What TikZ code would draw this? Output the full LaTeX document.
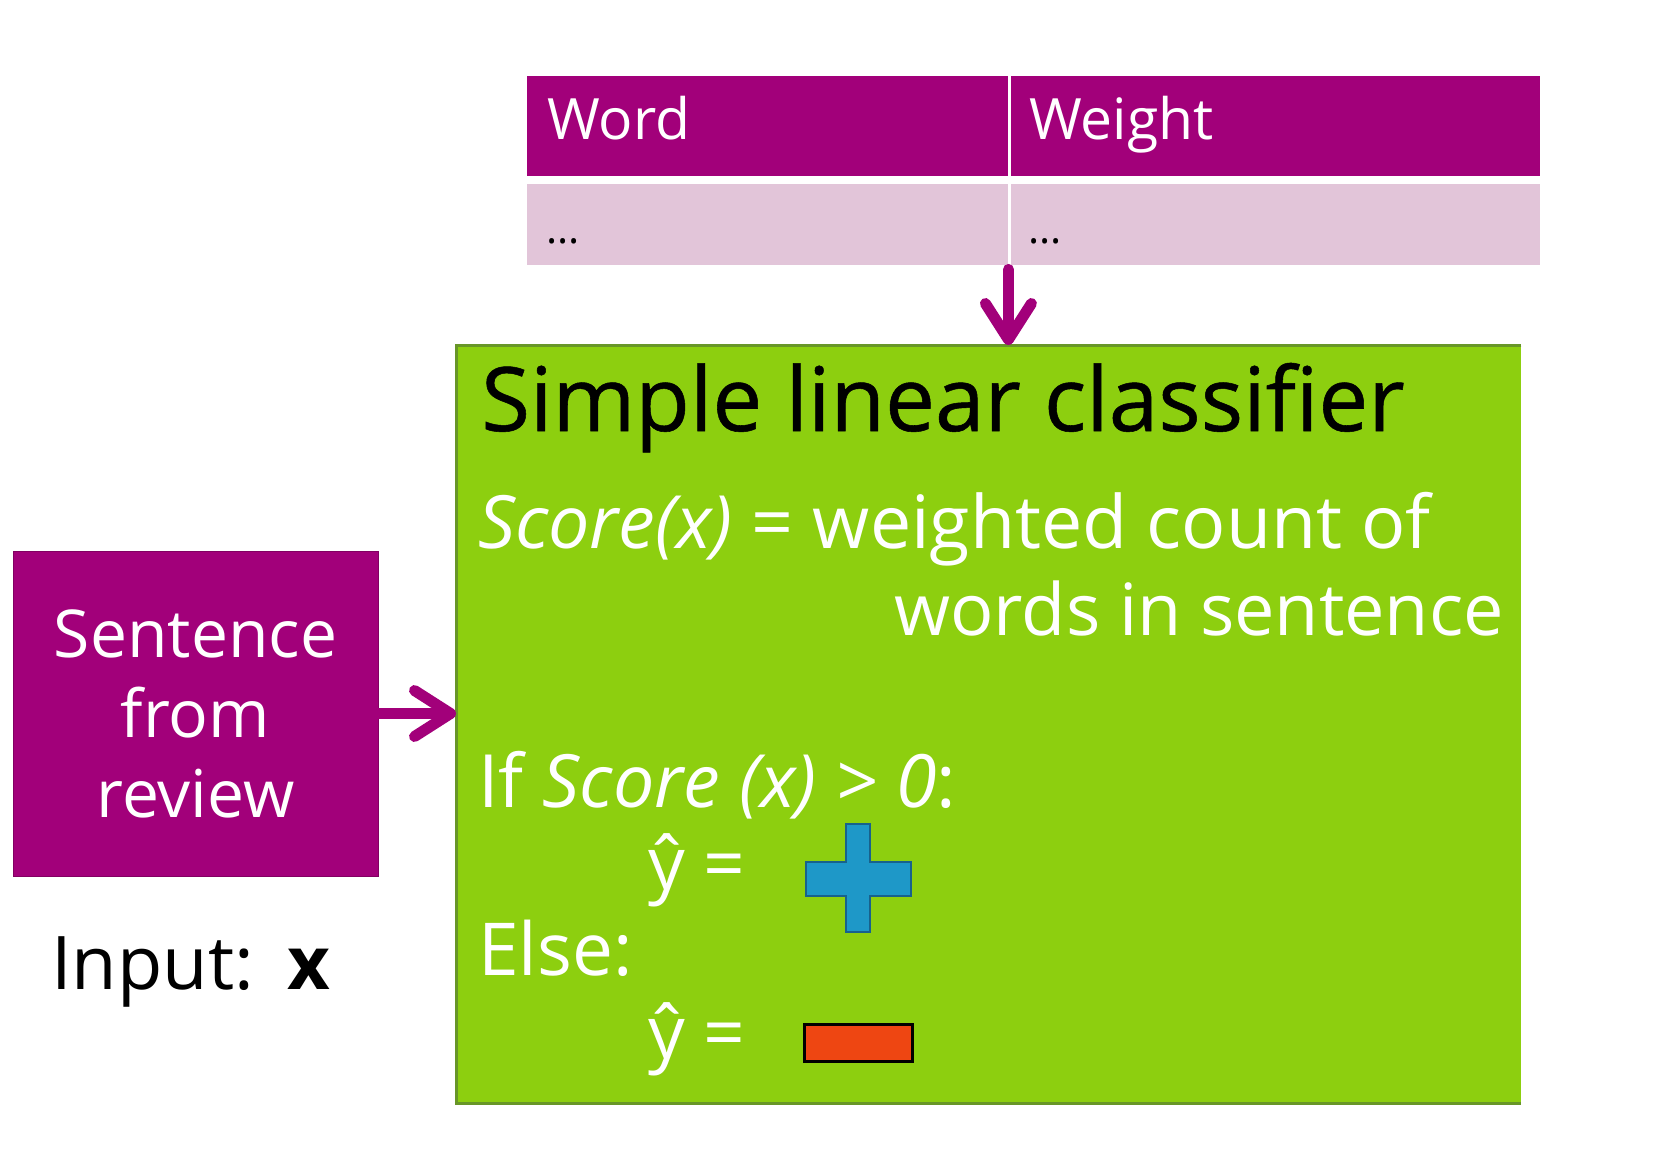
\documentclass[tikz,border=0pt]{standalone}
\usepackage{fontspec}
\setmainfont{Open Sans}
\newfontfamily\headfont{Open Sans}[FakeBold=0.6]
\usetikzlibrary{arrows.meta}

\definecolor{plum}{RGB}{162,0,122}
\definecolor{plumlight}{RGB}{226,197,217}
\definecolor{leaf}{RGB}{141,207,15}
\definecolor{leafdark}{RGB}{104,150,40}
\definecolor{plusblue}{RGB}{30,152,200}
\definecolor{plusedge}{RGB}{24,98,140}
\definecolor{minusred}{RGB}{238,70,18}

\tikzset{
  cell/.style={rectangle, inner sep=0pt, draw=none, anchor=north west},
  txt/.style={inner sep=0pt, anchor=base west},
  flow/.style={draw=plum, line width=11pt, line cap=round,
    -{Straight Barb[length=36pt, width=46pt, line width=11pt, line cap=round, line join=round]}},
}

\begin{document}
\begin{tikzpicture}[x=1pt, y=-1pt]
\useasboundingbox[fill=white] (0,0) rectangle (1659,1152);

% weight table
\node[cell, fill=plum, minimum width=481pt, minimum height=100pt] (hw) at (527,76) {};
\node[cell, fill=plum, minimum width=529pt, minimum height=100pt] (hg) at (1011,76) {};
\node[cell, fill=plumlight, minimum width=481pt, minimum height=81pt] (bw) at (527,184) {};
\node[cell, fill=plumlight, minimum width=529pt, minimum height=81pt] (bg) at (1011,184) {};
\node[txt, text=white, font=\fontsize{57}{60}\selectfont] (tword) at (547,139) {Word};
\node[txt, text=white, font=\fontsize{57}{60}\selectfont] (tweight) at (1029,139) {Weight};
\node[txt, font=\fontsize{42}{44}\selectfont] (dw) at (546,243) {...};
\node[txt, font=\fontsize{42}{44}\selectfont] (dg) at (1028,243) {...};

% classifier panel
\node[cell, fill=leaf, minimum width=1065pt, minimum height=758pt] (clf) at (456,345) {};
\draw[leafdark, line width=3pt] (clf.north east) -- (clf.north west) -- (clf.south west) -- (clf.south east);

\node[txt, font=\headfont\fontsize{89}{92}\selectfont] (title) at (481,431) {Simple linear classifier};
\node[txt, text=white, font=\fontsize{73.5}{76}\selectfont] (score) at (478,548) {\itshape Score(x)\upshape{} = weighted count of};
\node[txt, text=white, font=\fontsize{72}{76}\selectfont, anchor=base east] (words) at (1504,635) {words in sentence};
\node[txt, text=white, font=\fontsize{73.5}{76}\selectfont] (ifline) at (478,807) {If \itshape Score (x) > 0\upshape :};
\node[txt, text=white, font=\fontsize{73}{76}\selectfont] (yhat1) at (648,889) {ŷ =};
\node[txt, text=white, font=\fontsize{73}{76}\selectfont] (elseline) at (478,975) {Else:};
\node[txt, text=white, font=\fontsize{73}{76}\selectfont] (yhat2) at (648,1058) {ŷ =};

% predicted labels
\draw[fill=plusblue, draw=plusedge, line width=2.5pt, line join=miter]
  (846,824) -- (870,824) -- (870,862) -- (911,862) -- (911,896) -- (870,896)
  -- (870,932) -- (846,932) -- (846,896) -- (806,896) -- (806,862) -- (846,862) -- cycle;
\node[cell, fill=minusred, draw=black, line width=2.5pt, minimum width=108pt, minimum height=37pt] (minus) at (803,1023) {};

% input box
\node[rectangle, fill=plum, draw=plum!80!black, line width=1pt, minimum width=365pt, minimum height=325pt,
  text=white, align=center, font=\fontsize{66}{80}\selectfont] (sent) at (195.5,713.5) {Sentence\\from\\review};
\node[txt, font=\fontsize{74}{78}\selectfont] (inp) at (51,989) {Input:\hspace{0.45em}\textbf{x}};

% connectors
\draw[flow] ([yshift=-4pt]bw.south east) -- (bw.south east |- clf.north);
\draw[flow] (sent.east) -- (sent.east -| clf.west);
\end{tikzpicture}
\end{document}
